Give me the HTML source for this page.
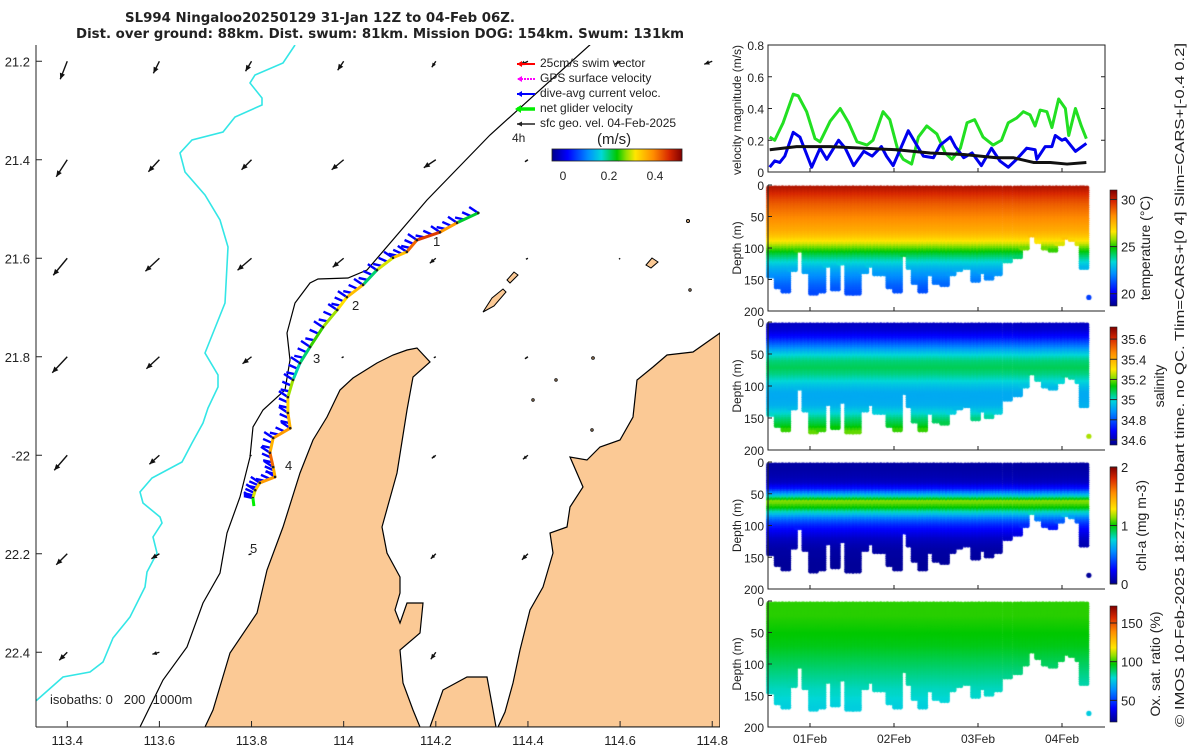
<!DOCTYPE html>
<html><head><meta charset="utf-8">
<style>
html,body{margin:0;padding:0;background:#fff;}
#wrap{position:relative;width:1200px;height:750px;overflow:hidden;font-family:"Liberation Sans",sans-serif;}
#dots{position:absolute;left:0;top:0;}
#fig{position:absolute;left:0;top:0;}
text{font-family:"Liberation Sans",sans-serif;fill:#222;}
</style></head>
<body>
<div id="wrap">
<canvas id="dots" width="1200" height="750"></canvas>
<svg id="fig" width="1200" height="750" xmlns="http://www.w3.org/2000/svg">
<defs>
<clipPath id="mapclip"><rect x="36" y="45" width="684" height="682"/></clipPath>
<linearGradient id="jetH" x1="0" x2="1" y1="0" y2="0">
<stop offset="0" stop-color="#00008c"/><stop offset="0.12" stop-color="#0000ff"/><stop offset="0.28" stop-color="#0090ff"/><stop offset="0.38" stop-color="#00d8d8"/><stop offset="0.5" stop-color="#00c800"/><stop offset="0.57" stop-color="#90e000"/><stop offset="0.64" stop-color="#ffe600"/><stop offset="0.78" stop-color="#ff8c00"/><stop offset="0.9" stop-color="#d82800"/><stop offset="1" stop-color="#800000"/></linearGradient>
<linearGradient id="jetV" x1="0" x2="0" y1="1" y2="0">
<stop offset="0" stop-color="#00008c"/><stop offset="0.12" stop-color="#0000ff"/><stop offset="0.28" stop-color="#0090ff"/><stop offset="0.38" stop-color="#00d8d8"/><stop offset="0.5" stop-color="#00c800"/><stop offset="0.57" stop-color="#90e000"/><stop offset="0.64" stop-color="#ffe600"/><stop offset="0.78" stop-color="#ff8c00"/><stop offset="0.9" stop-color="#d82800"/><stop offset="1" stop-color="#800000"/></linearGradient>
</defs>
<g id="titles">
<text x="320" y="22" text-anchor="middle" font-size="13" font-weight="bold" style="font-family:'DejaVu Sans',sans-serif" textLength="390" lengthAdjust="spacingAndGlyphs">SL994 Ningaloo20250129 31-Jan 12Z to 04-Feb 06Z.</text>
<text x="380" y="38" text-anchor="middle" font-size="13" font-weight="bold" style="font-family:'DejaVu Sans',sans-serif" textLength="608" lengthAdjust="spacingAndGlyphs">Dist. over ground: 88km. Dist. swum: 81km. Mission DOG: 154km. Swum: 131km</text>
</g>
<g id="map" clip-path="url(#mapclip)">
<path fill="#fbc995" stroke="#000" stroke-width="1.2" d="M205,727 L213,710 L230,653 L257,613 L267,570 L283,527 L300,473 L313,440 L327,417 L340,390 L353,378 L377,363 L393,355 L407,350 L417,348 L430,362 L413,377 L407,410 L397,473 L382,527 L387,553 L400,577 L400,593 L395,610 L400,623 L407,603 L423,603 L420,633 L400,650 L403,683 L413,710 L420,727 Z"/>
<path fill="#fbc995" stroke="#000" stroke-width="1.2" d="M430,727 L443,690 L467,677 L487,677 L493,710 L496,727 Z"/>
<path fill="#fbc995" stroke="#000" stroke-width="1.2" d="M498,727 L505,712 L513,683 L520,650 L530,610 L543,587 L553,553 L550,533 L567,527 L570,507 L583,487 L570,457 L587,460 L600,447 L620,440 L633,417 L637,380 L653,367 L667,355 L693,352 L720,333 L720,727 Z"/>
<g fill="#fbc995" stroke="#000" stroke-width="1">
<path d="M483,312 L492,298 L503,289 L506,292 L494,306 Z"/>
<path d="M507,280 L514,272 L518,275 L510,283 Z"/>
<path d="M646,265 L652,258 L658,262 L651,268 Z"/>
<circle cx="688" cy="221" r="1.5"/><circle cx="690" cy="290" r="1.2"/><circle cx="593" cy="358" r="1.3"/><circle cx="533" cy="400" r="1.2"/><circle cx="556" cy="380" r="1.2"/><circle cx="592" cy="430" r="1.2"/>
</g>
<polyline fill="none" stroke="#33e6e6" stroke-width="1.6" points="295,45 283,63 255,75 250,83 262,98 262,105 235,117 223,132 192,140 180,153 185,172 205,195 220,220 228,247 225,303 205,353 218,375 218,387 208,408 203,423 192,443 182,462 152,478 140,492 143,503 160,517 162,523 153,537 157,553 147,572 145,587 130,617 113,638 103,662 90,672 63,677 37,700 30,705"/>
<polyline fill="none" stroke="#000" stroke-width="1.2" points="592,43 490,135 427,200 367,270 348,278 318,279 310,283 295,303 287,333 290,360 285,390 263,410 253,427 250,457 240,497 227,533 220,573 203,603 187,647 163,680 140,727"/>
<g id="vectors"></g>
<g id="track"></g>
<g font-size="13">
<text x="433" y="246">1</text><text x="352" y="310">2</text><text x="313" y="363">3</text><text x="285" y="470">4</text><text x="250" y="553">5</text>
</g>
<text x="50" y="704" font-size="13" xml:space="preserve">isobaths: 0   200  1000m</text>
</g>
<g stroke="#222" stroke-width="1">
<line x1="36" y1="45" x2="36" y2="727"/><line x1="36" y1="727" x2="720" y2="727"/>
</g>
<g id="mapticks" font-size="13"></g>
<g font-size="12">
<line x1="535" y1="64" x2="517" y2="64" stroke="#f00" stroke-width="2"/><path d="M517,64 l5,-3 l0,6z" fill="#f00"/>
<text x="540" y="67">25cm/s swim vector</text>
<line x1="535" y1="79" x2="517" y2="79" stroke="#f0f" stroke-width="2" stroke-dasharray="2,1"/><path d="M517,79 l5,-3 l0,6z" fill="#f0f"/>
<text x="540" y="82">GPS surface velocity</text>
<line x1="535" y1="94" x2="517" y2="94" stroke="#00f" stroke-width="2"/><path d="M517,94 l5,-3 l0,6z" fill="#00f"/>
<text x="540" y="97">dive-avg current veloc.</text>
<line x1="535" y1="109" x2="517" y2="109" stroke="#0e0" stroke-width="3.5"/><path d="M515,109 l6,-4 l0,8z" fill="#0e0"/>
<text x="540" y="112">net glider velocity</text>
<line x1="535" y1="124" x2="517" y2="124" stroke="#222" stroke-width="1.5"/><path d="M517,124 l5,-2.5 l0,5z" fill="#222"/>
<text x="540" y="127">sfc geo. vel. 04-Feb-2025</text>
<text x="512" y="142">4h</text>
<text x="597" y="144" font-size="15">(m/s)</text>
<rect x="552" y="149" width="130" height="12" fill="url(#jetH)" stroke="#222" stroke-width="0.8"/>
<text x="563" y="180" text-anchor="middle">0</text><text x="609" y="180" text-anchor="middle">0.2</text><text x="655" y="180" text-anchor="middle">0.4</text>
</g>
<g id="right"></g>
<text transform="translate(1184,385) rotate(-90)" text-anchor="middle" font-size="13" textLength="684" lengthAdjust="spacingAndGlyphs">© IMOS 10-Feb-2025 18:27:55 Hobart time. no QC. Tlim=CARS+[0 4] Slim=CARS+[-0.4 0.2]</text>
</svg>
</div>
<script>
// ---------- data ----------
const netT = [0.02,0.08,0.18,0.30,0.36,0.46,0.56,0.62,0.74,0.86,0.96,1.06,1.18,1.25,1.37,1.45,1.55,1.61,1.71,1.79,1.89,2.01,2.11,2.19,2.29,2.37,2.46,2.56,2.68,2.78,2.86,2.96,3.04,3.12,3.18,3.24,3.32,3.38,3.46,3.54,3.58,3.66,3.73,3.79];
const netV = [0.22,0.20,0.31,0.49,0.48,0.38,0.21,0.19,0.32,0.40,0.31,0.19,0.17,0.20,0.38,0.33,0.13,0.08,0.05,0.22,0.29,0.24,0.12,0.08,0.15,0.31,0.33,0.22,0.17,0.20,0.31,0.34,0.38,0.36,0.29,0.39,0.38,0.28,0.46,0.40,0.23,0.40,0.29,0.21];
const curT = [0.02,0.08,0.14,0.20,0.30,0.38,0.52,0.62,0.70,0.84,0.92,1.02,1.14,1.24,1.35,1.41,1.49,1.67,1.77,1.85,1.97,2.05,2.17,2.23,2.33,2.43,2.54,2.66,2.76,2.86,2.96,3.08,3.18,3.20,3.30,3.38,3.42,3.50,3.54,3.66,3.79];
const curV = [0.03,0.07,0.06,0.10,0.25,0.22,0.03,0.15,0.08,0.20,0.15,0.04,0.13,0.10,0.16,0.10,0.04,0.26,0.17,0.10,0.09,0.17,0.22,0.16,0.09,0.12,0.04,0.15,0.07,0.03,0.08,0.15,0.14,0.08,0.16,0.16,0.23,0.20,0.21,0.13,0.18];
const geoT = [0.02,0.34,0.74,1.14,1.53,1.93,2.33,2.72,2.92,3.16,3.36,3.56,3.79];
const geoV = [0.14,0.16,0.16,0.15,0.14,0.12,0.11,0.09,0.09,0.06,0.06,0.05,0.06];
const velTicks = [0,0.2,0.4,0.6,0.8];
const profT = [0.03,0.12,0.20,0.28,0.36,0.45,0.53,0.62,0.70,0.79,0.87,0.96,1.04,1.13,1.21,1.29,1.37,1.45,1.53,1.62,1.69,1.75,1.83,1.92,2.00,2.09,2.17,2.25,2.37,2.46,2.54,2.62,2.72,2.84,2.96,3.04,3.14,3.22,3.30,3.38,3.46,3.54,3.62,3.70,3.75];
const profMax = [145,161,169,135,103,137,174,171,129,166,124,174,174,137,127,140,143,163,171,109,132,156,170,140,156,158,143,135,132,153,137,148,140,122,113,98,80,88,98,103,93,83,85,93,132];
const depthGrid = [0,10,20,30,40,50,60,70,80,90,100,110,120,130,140,150,160,170,180];
const tempByDepth = [30.3,29.8,29.3,28.9,28.6,28.3,28.0,27.7,27.2,26.4,25.3,24.3,23.5,22.8,22.3,21.9,21.5,21.2,21.0];
const salByDepth = [34.62,34.64,34.70,34.80,34.90,35.00,35.06,35.08,35.05,35.00,34.95,34.92,34.92,34.93,34.98,35.05,35.10,35.18,35.25];
const chlByDepth = [0.05,0.06,0.08,0.12,0.3,0.7,1.15,1.0,0.7,0.45,0.3,0.2,0.12,0.08,0.05,0.04,0.03,0.03,0.03];
const oxyByDepth = [100,100,100,99,98,97,96,95,93,91,89,87,85,83,81,80,78,77,76];
const trackLon = [114.292,114.246,114.209,114.159,114.137,114.107,114.072,114.042,114.007,113.986,113.955,113.927,113.905,113.890,113.879,113.879,113.884,113.847,113.840,113.847,113.851,113.818,113.808,113.803];
const trackLat = [21.508,21.528,21.547,21.563,21.587,21.599,21.624,21.654,21.679,21.705,21.740,21.780,21.813,21.847,21.882,21.914,21.945,21.965,21.995,22.024,22.044,22.056,22.071,22.087];
const trackSpeed = [0.22,0.38,0.45,0.42,0.35,0.3,0.2,0.35,0.32,0.28,0.25,0.2,0.18,0.28,0.33,0.36,0.38,0.36,0.42,0.36,0.38,0.34,0.3,0.2];
const gridLon = [113.4,113.6,113.8,114.0,114.2,114.4,114.6,114.8];
const gridLat = [21.2,21.4,21.6,21.8,22.0,22.2,22.4];
const geoU = [
 [-0.14,-0.12,-0.12,-0.12,-0.08,-0.16,-0.10,-0.16],
 [-0.22,-0.22,-0.20,-0.24,-0.24,-0.06,-0.04,0],
 [-0.28,-0.28,-0.28,-0.22,-0.12,-0.04,-0.02,0],
 [-0.30,-0.26,-0.18,-0.04,-0.04,-0.06,0,0],
 [-0.26,-0.20,-0.04,0,-0.08,-0.10,0,0],
 [-0.22,-0.16,-0.06,0,-0.10,-0.12,0,0],
 [-0.16,-0.14,0,0,-0.10,0,0,0]];
const geoVv = [
 [-0.36,-0.24,-0.20,-0.18,-0.12,-0.08,-0.06,-0.06],
 [-0.34,-0.24,-0.20,-0.20,-0.16,-0.04,-0.02,0],
 [-0.34,-0.26,-0.24,-0.18,-0.10,-0.02,-0.02,0],
 [-0.32,-0.24,-0.14,-0.02,-0.02,-0.04,0,0],
 [-0.30,-0.18,-0.02,0,-0.06,-0.08,0,0],
 [-0.22,-0.10,-0.02,0,-0.10,-0.12,0,0],
 [-0.16,-0.04,0,0,-0.14,0,0,0]];
const lonTicks = [113.4,113.6,113.8,114,114.2,114.4,114.6,114.8];
const latTicks = [21.2,21.4,21.6,21.8,22.0,22.2,22.4];
const latTickLabels = ["21.2","21.4","21.6","21.8","-22","22.2","22.4"];
const dayTicks = [0.5,1.5,2.5,3.5];
const dayLabels = ["01Feb","02Feb","03Feb","04Feb"];

// ---------- helpers ----------
const NS = "http://www.w3.org/2000/svg";
function mk(tag, attrs, parent){const e=document.createElementNS(NS,tag);for(const k in attrs)e.setAttribute(k,attrs[k]);parent.appendChild(e);return e;}
const cmapPos=[0,0.12,0.28,0.38,0.5,0.57,0.64,0.78,0.9,1];
const cmapCol=[[0,0,140],[0,0,255],[0,144,255],[0,216,216],[0,200,0],[144,224,0],[255,230,0],[255,140,0],[216,40,0],[128,0,0]];
function jet(t){t=Math.max(0,Math.min(1,t));let i=0;while(i<cmapPos.length-2&&t>cmapPos[i+1])i++;
 const f=(t-cmapPos[i])/(cmapPos[i+1]-cmapPos[i]);const a=cmapCol[i],b=cmapCol[i+1];
 return `rgb(${Math.round(a[0]+(b[0]-a[0])*f)},${Math.round(a[1]+(b[1]-a[1])*f)},${Math.round(a[2]+(b[2]-a[2])*f)})`;}
function lookup(arr,d){const i=Math.min(depthGrid.length-2,Math.floor(d/10));const f=Math.min(1,(d-depthGrid[i])/10);return arr[i]*(1-f)+arr[i+1]*f;}
const lonX = lon => 35 + (lon-113.33)*460.7;
const latY = lat => 45 + (lat-21.167)*492.5;
const tX = t => 768 + t*84;

// ---------- map ticks ----------
const mt=document.getElementById('mapticks');
lonTicks.forEach(v=>{const x=lonX(v);
 mk('line',{x1:x,y1:727,x2:x,y2:721,stroke:'#222'},mt);
 const t=mk('text',{x:x,y:745,'text-anchor':'middle'},mt);t.textContent=String(v);
 });
latTicks.forEach((v,i)=>{const y=latY(v);
 mk('line',{x1:36,y1:y,x2:42,y2:y,stroke:'#222'},mt);
 const t=mk('text',{x:30,y:y+5,'text-anchor':'end'},mt);t.textContent=latTickLabels[i];
 });

// ---------- vectors ----------
const vg=document.getElementById('vectors');
gridLat.forEach((la,i)=>gridLon.forEach((lo,j)=>{
 const u=geoU[i][j], v=geoVv[i][j]; const x=lonX(lo), y=latY(la);
 const dx=u*50, dy=-v*50; const L=Math.hypot(dx,dy); if(L<0.5) return;
 const ux=dx/L, uy=dy/L, hx=x+dx, hy=y+dy;
 const ln=mk('line',{x1:x,y1:y,x2:hx,y2:hy,stroke:'#111','stroke-width':1.4},vg);
 
 const h=Math.min(6,L*0.6);
 mk('path',{d:`M${hx},${hy} L${hx-ux*h-uy*h*0.45},${hy-uy*h+ux*h*0.45} L${hx-ux*h+uy*h*0.45},${hy-uy*h-ux*h*0.45}Z`,fill:'#111'},vg);
}));

// ---------- track ----------
const tg=document.getElementById('track');
const pts=trackLon.map((lo,i)=>[lonX(lo),latY(trackLat[i])]);
for(let i=0;i<pts.length;i++){
 for(let k=0;k<3;k++){
  const nx = i<pts.length-1 ? pts[i][0]+(pts[i+1][0]-pts[i][0])*k/3 : pts[i][0];
  const ny = i<pts.length-1 ? pts[i][1]+(pts[i+1][1]-pts[i][1])*k/3 : pts[i][1];
  const a=mk('line',{x1:nx,y1:ny,x2:nx-9,y2:ny-4+(k-1)*2,stroke:'#0000ff','stroke-width':2.4},tg);
  
 }
}
for(let i=0;i<pts.length-1;i++){
 const s=mk('line',{x1:pts[i][0],y1:pts[i][1],x2:pts[i+1][0],y2:pts[i+1][1],stroke:jet((trackSpeed[i]+0.05)/0.57),'stroke-width':3,'stroke-linecap':'round'},tg);
 
}
pts.forEach(([x,y])=>{const c=mk('circle',{cx:x,cy:y,r:1.3,fill:'#222'},tg);
 });
const last=pts[pts.length-1];
mk('line',{x1:last[0],y1:last[1],x2:last[0]+1,y2:last[1]+8,stroke:'#0e0','stroke-width':3},tg);

// ---------- right panels ----------
const rg=document.getElementById('right');
const X0=768, X1=1105;
function timeAxis(bottom, labels){
 dayTicks.forEach((d,i)=>{const x=tX(d);
  mk('line',{x1:x,y1:bottom,x2:x,y2:bottom-4,stroke:'#222'},rg);
  if(labels){const t=mk('text',{x:x,y:bottom+16,'text-anchor':'middle','font-size':12},rg);t.textContent=dayLabels[i];
   }
 });
}
const vTop=45,vBot=172; const vY=v=>vBot-v/0.8*(vBot-vTop);
const box=mk('rect',{x:X0,y:vTop,width:X1-X0,height:vBot-vTop,fill:'none',stroke:'#222'},rg);

velTicks.forEach(v=>{const y=vY(v);
 mk('line',{x1:X0,y1:y,x2:X0+4,y2:y,stroke:'#222'},rg);mk('line',{x1:X1,y1:y,x2:X1-4,y2:y,stroke:'#222'},rg);
 const t=mk('text',{x:X0-4,y:y+5,'text-anchor':'end','font-size':12},rg);t.textContent=String(v);
 });
timeAxis(vBot,false);
function series(T,V,color,w,name){
 const p=mk('polyline',{points:T.map((t,i)=>tX(t)+','+vY(V[i])).join(' '),fill:'none',stroke:color,'stroke-width':w,'stroke-linejoin':'round'},rg);
 }
series(netT,netV,'#22e022',3,'net-glider-velocity-line');
series(curT,curV,'#0000ee',3,'dive-avg-current-line');
series(geoT,geoV,'#111',3,'surface-geo-velocity-line');
const vt=mk('text',{transform:'translate(741,110) rotate(-90)','text-anchor':'middle','font-size':12},rg);
vt.textContent='velocity magnitude (m/s)';

const panels=[
 {top:185,bot:311,arr:tempByDepth,min:18.7,max:31.0,ticks:[20,25,30],tl:['20','25','30'],label:'temperature (°C)',lx:1150,name:'temperature'},
 {top:322,bot:450,arr:salByDepth,min:34.55,max:35.72,ticks:[34.6,34.8,35,35.2,35.4,35.6],tl:['34.6','34.8','35','35.2','35.4','35.6'],label:'salinity',lx:1164,name:'salinity'},
 {top:462,bot:589,arr:chlByDepth,min:0,max:2,ticks:[0,1,2],tl:['0','1','2'],label:'chl-a (mg m-3)',lx:1146,name:'chl-a'},
 {top:601,bot:727,arr:oxyByDepth,min:22,max:172,ticks:[50,100,150],tl:['50','100','150'],label:'Ox. sat. ratio (%)',lx:1160,name:'oxygen'}];
const ctx=document.getElementById('dots').getContext('2d');
panels.forEach((P,pi)=>{
 const H=P.bot-P.top, dY=d=>P.top+3+d*(H-3)/200;
 profT.forEach((t,i)=>{
  for(let s=0;s<3;s++){const x=tX(t)-2+s*3;
   for(let d=0;d<=profMax[i];d+=3.5){
    const val=lookup(P.arr,Math.min(180,d));
    ctx.fillStyle=jet((val-P.min)/(P.max-P.min));
    ctx.beginPath();ctx.arc(x,dY(d),2.4,0,6.2832);ctx.fill();}
  }
 });
 ctx.fillStyle=jet((lookup(P.arr,178)-P.min)/(P.max-P.min));ctx.beginPath();ctx.arc(tX(3.82),dY(178),2.6,0,6.2832);ctx.fill();
 const ax=mk('path',{d:`M${X0},${P.top} L${X0},${P.bot} L${X1},${P.bot}`,fill:'none',stroke:'#222'},rg);
 
 [0,50,100,150,200].forEach(d=>{const y=P.top+d*H/200;
  mk('line',{x1:X0,y1:y,x2:X0+4,y2:y,stroke:'#222'},rg);
  const t=mk('text',{x:X0-4,y:y+5,'text-anchor':'end','font-size':12},rg);t.textContent=String(d);
  });
 timeAxis(P.bot,pi===3);
 const dt=mk('text',{transform:`translate(741,${(P.top+P.bot)/2}) rotate(-90)`,'text-anchor':'middle','font-size':12},rg);
 dt.textContent='Depth (m)';
 const cT=P.top+5, cB=P.bot-5;
 const cb=mk('rect',{x:1110,y:cT,width:7,height:cB-cT,fill:'url(#jetV)',stroke:'#222','stroke-width':0.6},rg);
 
 P.ticks.forEach((v,k)=>{const y=cB-(v-P.min)/(P.max-P.min)*(cB-cT);
  mk('line',{x1:1110,y1:y,x2:1117,y2:y,stroke:'#222'},rg);
  const t=mk('text',{x:1121,y:y+5,'font-size':13},rg);t.textContent=P.tl[k];
  });
 const lt=mk('text',{transform:`translate(${P.lx},${(P.top+P.bot)/2}) rotate(-90)`,'text-anchor':'middle','font-size':14},rg);
 lt.textContent=P.label;
});
</script>
</body></html>
